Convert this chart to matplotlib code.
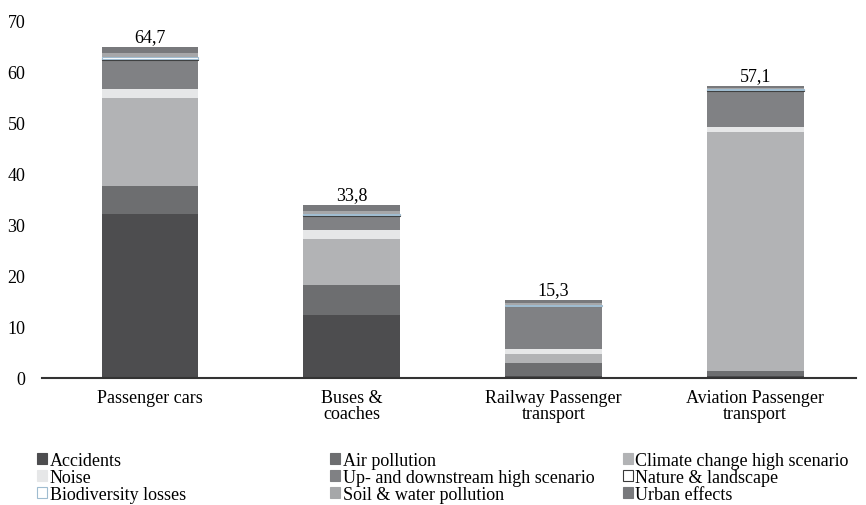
import matplotlib
matplotlib.use("Agg")
import matplotlib.pyplot as plt
from matplotlib.patches import Patch
import numpy as np

plt.rcParams["font.family"] = ["Liberation Serif", "DejaVu Serif"]

categories = ["Passenger cars", "Buses &\ncoaches", "Railway Passenger\ntransport",
              "Aviation Passenger\ntransport"]
totals = [64.7, 33.8, 15.3, 57.1]
total_labels = ["64,7", "33,8", "15,3", "57,1"]

series = ["Accidents", "Air pollution", "Climate change high scenario", "Noise",
          "Up- and downstream high scenario", "Nature & landscape",
          "Biodiversity losses", "Soil & water pollution", "Urban effects"]
accidents = [32.1, 12.3, 0.3, 0.4]
air_pollution = [5.5, 5.9, 2.6, 1.0]
climate = [17.2, 9.0, 1.8, 46.7]
noise = [1.8, 1.7, 1.0, 1.0]
updown = [5.6, 2.8, 8.4, 7.1]
nature = [0.3, 0.2, 0.05, 0.1]
biodiversity = [0.3, 0.2, 0.1, 0.2]
soil = [0.7, 0.6, 0.5, 0.3]
urban = [1.2, 1.1, 0.55, 0.3]
values = [accidents, air_pollution, climate, noise, updown, nature,
          biodiversity, soil, urban]

fills = ["#4d4d4f", "#6d6e70", "#b2b3b5", "#e6e7e8", "#808184", "#ffffff",
         "#ffffff", "#a6a7a9", "#78797c"]
edges = ["none", "none", "none", "none", "none", "#3a3a3a", "#9fbcd0", "none", "none"]

fig = plt.figure(figsize=(8.66, 5.06), dpi=100)
ax = fig.add_axes([0.0485, 0.251, 0.94, 0.707])

x = np.arange(len(categories))
bottom = np.zeros(len(categories))
for name, vals, fc, ec in zip(series, values, fills, edges):
    ax.bar(x, vals, bottom=bottom, width=0.48, color=fc,
           edgecolor=ec, linewidth=0.8 if ec != "none" else 0, label=name)
    bottom += np.array(vals)

for xi, t, lab in zip(x, totals, total_labels):
    ax.text(xi, t + 0.4, lab, ha="center", va="bottom", fontsize=13)

ax.set_xlim(-0.535, 3.5)
ax.set_ylim(0, 70)
ax.set_yticks(range(0, 71, 10))
ax.set_xticks(x)
ax.set_xticklabels(categories, fontsize=13, linespacing=0.95)
ax.tick_params(axis="both", length=0, labelsize=13)
ax.tick_params(axis="y", pad=12)
ax.tick_params(axis="x", pad=8)
for s in ["top", "right", "left"]:
    ax.spines[s].set_visible(False)
ax.spines["bottom"].set_color("#333333")
ax.spines["bottom"].set_linewidth(1.5)

handles = [Patch(facecolor=fc, edgecolor=(ec if ec != "none" else fc), linewidth=0.8, label=n)
           for n, fc, ec in zip(series, fills, edges)]
col_x = [0.043, 0.381, 0.719]
for c in range(3):
    hs = [handles[r * 3 + c] for r in range(3)]
    fig.legend(handles=hs, loc="upper left", bbox_to_anchor=(col_x[c], 0.105),
               frameon=False, fontsize=13, handlelength=0.55, handleheight=0.55,
               handletextpad=0.15, labelspacing=0.0, borderpad=0, borderaxespad=0)

fig.savefig("out.png", dpi=100)
